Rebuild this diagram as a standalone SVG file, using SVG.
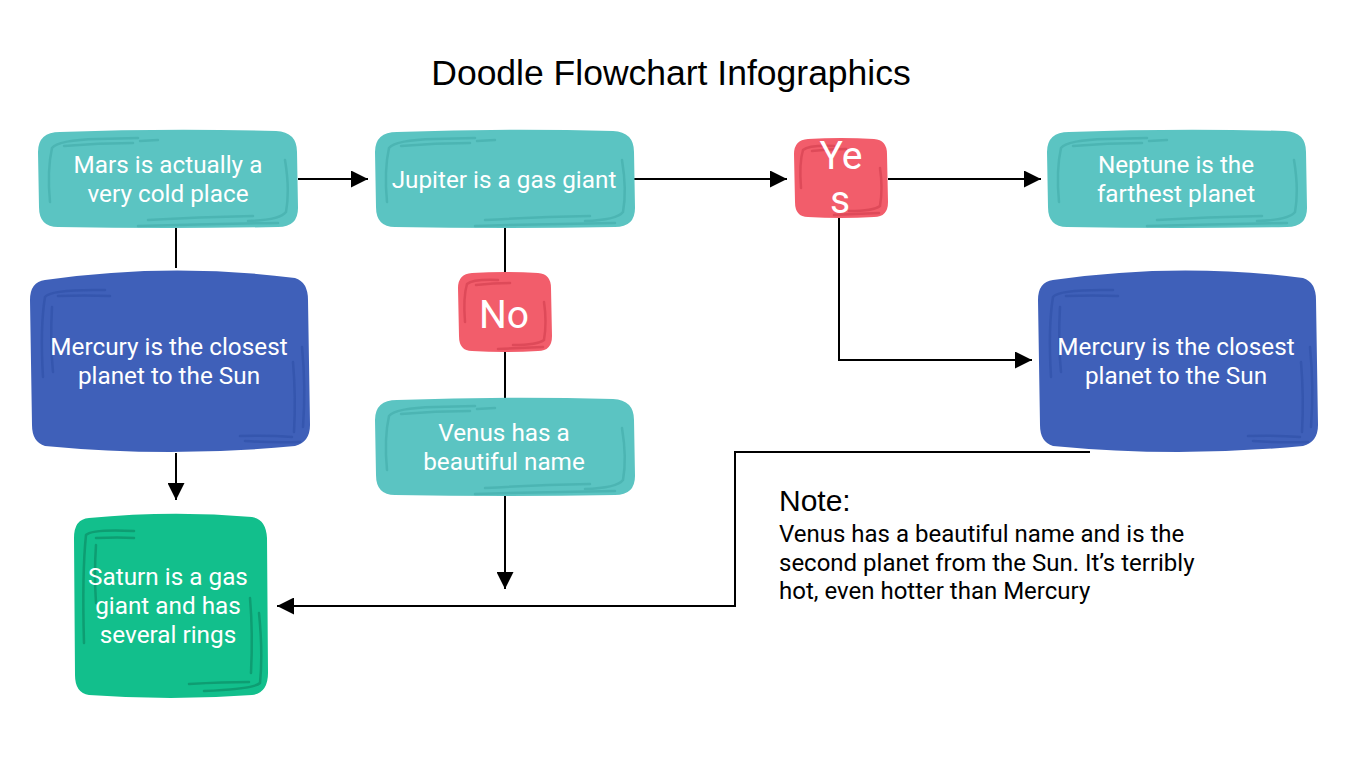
<svg xmlns="http://www.w3.org/2000/svg" xmlns:xlink="http://www.w3.org/1999/xlink" width="1371" height="777" viewBox="0 0 1371 777">
<style>
.title{font-family:"Liberation Sans",Arial,sans-serif;font-size:35.5px;fill:#000}
.note-h{font-family:"Liberation Sans",Arial,sans-serif;font-size:30px;fill:#000}
.note{font-family:Roboto,"Noto Sans",sans-serif;font-size:24px;fill:#000}
.lbl{font-family:Roboto,"Noto Sans",sans-serif;font-size:24.3px;fill:#fff;text-anchor:middle}
.big{font-family:Roboto,"Noto Sans",sans-serif;font-size:39px;fill:#fff;text-anchor:middle}
.sc{fill:none;stroke-width:2.5;stroke-linecap:round}
.conn{fill:none;stroke:#000;stroke-width:2}
</style>
<defs>
<marker id="ah" viewBox="0 0 10 10" refX="10" refY="5" markerWidth="19" markerHeight="17" markerUnits="userSpaceOnUse" orient="auto"><path d="M0,0 L10,5 L0,10 Z" fill="#000"/></marker>
<g id="teal">
<path d="M22,2 Q130,-2 238,1 Q259,2 259,22 L260,78 Q260,97 240,97 Q130,99 20,97 Q1,97 1,77 L0,22 Q0,2 22,2 Z" fill="#5bc4c2"/>
<g class="sc" stroke="#4cb5b3">
<path d="M12,72 Q9,40 14,18 Q20,10 60,9 L100,8"/>
<path d="M26,16 Q60,13 95,13"/>
<path d="M102,11 L120,10"/>
<path d="M247,30 Q252,60 248,82 Q242,90 210,91"/>
<path d="M110,90 Q160,87 215,86"/>
<path d="M100,96 Q170,94 240,93"/>
</g>
</g>
<g id="blue">
<path d="M15,13 Q140,-5 265,11 Q278,15 278,33 L280,158 Q280,175 265,179 Q140,191 15,179 Q2,175 2,158 L0,33 Q0,15 15,13 Z" fill="#3f60b9"/>
<g class="sc" stroke="#3556ae">
<path d="M13,110 Q10,60 15,30 Q21,22 75,23"/>
<path d="M28,29 Q55,28 80,29"/>
<path d="M22,40 Q20,75 23,105"/>
<path d="M272,80 Q276,120 273,160"/>
<path d="M263,95 Q266,130 264,165"/>
<path d="M210,169 Q240,168 262,170"/>
<path d="M215,174 Q245,176 270,175"/>
</g>
</g>
<g id="green">
<path d="M15,5 Q97,-3 178,4 Q192,6 193,25 L194,160 Q194,180 178,182 Q97,188 15,182 Q1,180 1,162 L0,25 Q0,6 15,5 Z" fill="#12bf8c"/>
<g class="sc" stroke="#0e9d72">
<path d="M10,130 Q8,60 12,22 Q18,16 60,18"/>
<path d="M22,25 Q45,24 60,25"/>
<path d="M22,32 Q20,60 22,90"/>
<path d="M185,100 Q189,140 186,170 Q180,176 130,178"/>
<path d="M176,85 Q179,120 177,160"/>
<path d="M115,171 Q150,169 175,169"/>
</g>
</g>
<g id="red">
<path d="M14,1 Q47,-1 80,1 Q93,2 93,16 L94,64 Q94,79 80,79 Q47,81 14,79 Q1,79 1,64 L0,16 Q0,2 14,1 Z" fill="#f25d6b"/>
<g class="sc" stroke="#de4a59">
<path d="M7,50 Q5,25 9,12 Q15,7 40,8"/>
<path d="M18,13 Q35,11 52,11"/>
<path d="M86,30 Q89,50 86,68 Q80,73 55,73"/>
<path d="M40,77 Q60,76 85,75"/>
</g>
</g>
</defs>
<rect width="1371" height="777" fill="#fff"/>
<text class="title" x="671" y="85" text-anchor="middle">Doodle Flowchart Infographics</text>

<g id="connectors">
<line class="conn" x1="298" y1="179" x2="368" y2="179" marker-end="url(#ah)"/>
<line class="conn" x1="634" y1="179" x2="787" y2="179" marker-end="url(#ah)"/>
<line class="conn" x1="888" y1="179" x2="1041" y2="179" marker-end="url(#ah)"/>
<line class="conn" x1="176" y1="228" x2="176" y2="268"/>
<line class="conn" x1="176" y1="453" x2="176" y2="500" marker-end="url(#ah)"/>
<line class="conn" x1="505" y1="228" x2="505" y2="272"/>
<line class="conn" x1="505" y1="352" x2="505" y2="398"/>
<line class="conn" x1="505" y1="496" x2="505" y2="589" marker-end="url(#ah)"/>
<path class="conn" d="M839,218 V360 H1032" marker-end="url(#ah)"/>
<path class="conn" d="M1090,452 H735 V606 H277" marker-end="url(#ah)"/>
</g>

<g id="mars"><use xlink:href="#teal" x="38" y="130"/>
<text class="lbl" x="168" y="173">Mars is actually a</text>
<text class="lbl" x="168" y="202">very cold place</text></g>

<g id="jupiter"><use xlink:href="#teal" x="375" y="130"/>
<text class="lbl" x="504" y="188">Jupiter is a gas giant</text></g>

<g id="yes"><use xlink:href="#red" x="794" y="138"/>
<text class="big" x="841" y="169">Ye</text>
<text class="big" x="840" y="213">s</text></g>

<g id="neptune"><use xlink:href="#teal" x="1047" y="130"/>
<text class="lbl" x="1176" y="173">Neptune is the</text>
<text class="lbl" x="1176" y="202">farthest planet</text></g>

<g id="mercury-left"><use xlink:href="#blue" x="30" y="267"/>
<text class="lbl" x="169" y="355">Mercury is the closest</text>
<text class="lbl" x="169" y="384">planet to the Sun</text></g>

<g id="mercury-right"><use xlink:href="#blue" x="1038" y="267"/>
<text class="lbl" x="1176" y="355">Mercury is the closest</text>
<text class="lbl" x="1176" y="384">planet to the Sun</text></g>

<g id="no"><use xlink:href="#red" x="458" y="272"/>
<text class="big" x="504" y="328">No</text></g>

<g id="venus"><use xlink:href="#teal" x="375" y="398"/>
<text class="lbl" x="504" y="441">Venus has a</text>
<text class="lbl" x="504" y="470">beautiful name</text></g>

<g id="saturn"><use xlink:href="#green" x="74" y="513"/>
<text class="lbl" x="168" y="585">Saturn is a gas</text>
<text class="lbl" x="168" y="614">giant and has</text>
<text class="lbl" x="168" y="643">several rings</text></g>

<g id="note">
<text class="note-h" x="779" y="511">Note:</text>
<text class="note" x="779" y="542">Venus has a beautiful name and is the</text>
<text class="note" x="779" y="571">second planet from the Sun. It’s terribly</text>
<text class="note" x="779" y="599">hot, even hotter than Mercury</text>
</g>
</svg>
